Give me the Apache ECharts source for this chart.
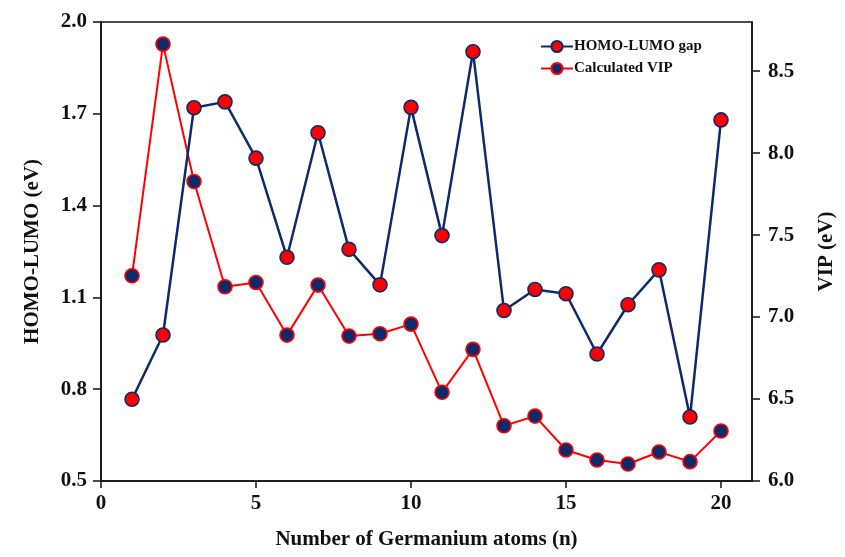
<!DOCTYPE html>
<html><head><meta charset="utf-8">
<script src="https://cdn.jsdelivr.net/npm/echarts@6/dist/echarts.min.js"></script>
<style>html,body{margin:0;padding:0;background:#fff}#c{width:845px;height:557px}</style>
</head><body><div id="c"></div>
<script>
const nAtoms = [1,2,3,4,5,6,7,8,9,10,11,12,13,14,15,16,17,18,19,20];
const homoLumo = [0.767,0.977,1.720,1.739,1.555,1.231,1.638,1.257,1.141,1.721,1.302,1.903,1.057,1.126,1.112,0.915,1.076,1.190,0.709,1.680];
const vip = [7.252,8.665,7.827,7.185,7.211,6.890,7.195,6.884,6.898,6.957,6.541,6.803,6.337,6.396,6.189,6.128,6.104,6.177,6.118,6.305];
const xTicks = [0,5,10,15,20];
const leftTicks = [0.5,0.8,1.1,1.4,1.7,2.0];
const rightTicks = [6.0,6.5,7.0,7.5,8.0,8.5];

const NAVY = '#0f2a6b', RED = '#ff0000';
const FONT = '"Liberation Serif", "Times New Roman", serif';
const chart = echarts.init(document.getElementById('c'));
const lbl = {fontFamily: FONT, fontWeight: 'bold', fontSize: 21, color: '#111'};
chart.setOption({
  animation: false,
  grid: {left: 101, right: 92, top: 22, bottom: 76, show: true, borderColor: '#111', borderWidth: 1.5},
  legend: {
    orient: 'vertical', left: 535, top: 34, itemWidth: 32, itemHeight: 14, itemGap: 7,
    textStyle: {fontFamily: FONT, fontWeight: 'bold', fontSize: 15, color: '#111', padding: [0,0,0,-4]},
    data: ['HOMO-LUMO gap', 'Calculated VIP']
  },
  xAxis: {
    type: 'value', min: 0, max: 21,
    axisLine: {show: true, lineStyle: {color: '#111', width: 1.5}},
    axisTick: {show: true, length: 7, inside: false, customValues: xTicks, lineStyle: {color: '#111', width: 1.5}},
    axisLabel: Object.assign({margin: 12, customValues: xTicks}, lbl),
    splitLine: {show: false},
    name: 'Number of Germanium atoms (n)', nameLocation: 'middle', nameGap: 48,
    nameTextStyle: lbl
  },
  yAxis: [{
    type: 'value', min: 0.5, max: 2.0, position: 'left',
    axisLine: {show: true, lineStyle: {color: '#111', width: 1.5}},
    axisTick: {show: true, length: 8, customValues: leftTicks, lineStyle: {color: '#111', width: 1.5}},
    axisLabel: Object.assign({margin: 14, customValues: leftTicks, formatter: v => v.toFixed(1)}, lbl),
    splitLine: {show: false},
    name: 'HOMO-LUMO (eV)', nameLocation: 'middle', nameGap: 58, nameRotate: 90,
    nameTextStyle: lbl
  }, {
    type: 'value', min: 6.0, max: 8.8, position: 'right',
    axisLine: {show: true, lineStyle: {color: '#111', width: 1.5}},
    axisTick: {show: true, length: 8, customValues: rightTicks, lineStyle: {color: '#111', width: 1.5}},
    axisLabel: Object.assign({margin: 16, customValues: rightTicks, formatter: v => v.toFixed(1)}, lbl),
    splitLine: {show: false},
    name: 'VIP (eV)', nameLocation: 'middle', nameGap: 64, nameRotate: 90,
    nameTextStyle: lbl
  }],
  series: [{
    name: 'HOMO-LUMO gap', type: 'line', yAxisIndex: 0,
    data: nAtoms.map((n, i) => [n, homoLumo[i]]),
    symbol: 'circle', symbolSize: 14,
    lineStyle: {color: NAVY, width: 2.5},
    itemStyle: {color: RED, borderColor: NAVY, borderWidth: 1.6},
    z: 3
  }, {
    name: 'Calculated VIP', type: 'line', yAxisIndex: 1,
    data: nAtoms.map((n, i) => [n, vip[i]]),
    symbol: 'circle', symbolSize: 14,
    lineStyle: {color: RED, width: 2},
    itemStyle: {color: NAVY, borderColor: RED, borderWidth: 1.6},
    z: 2
  }]
});
</script></body></html>
